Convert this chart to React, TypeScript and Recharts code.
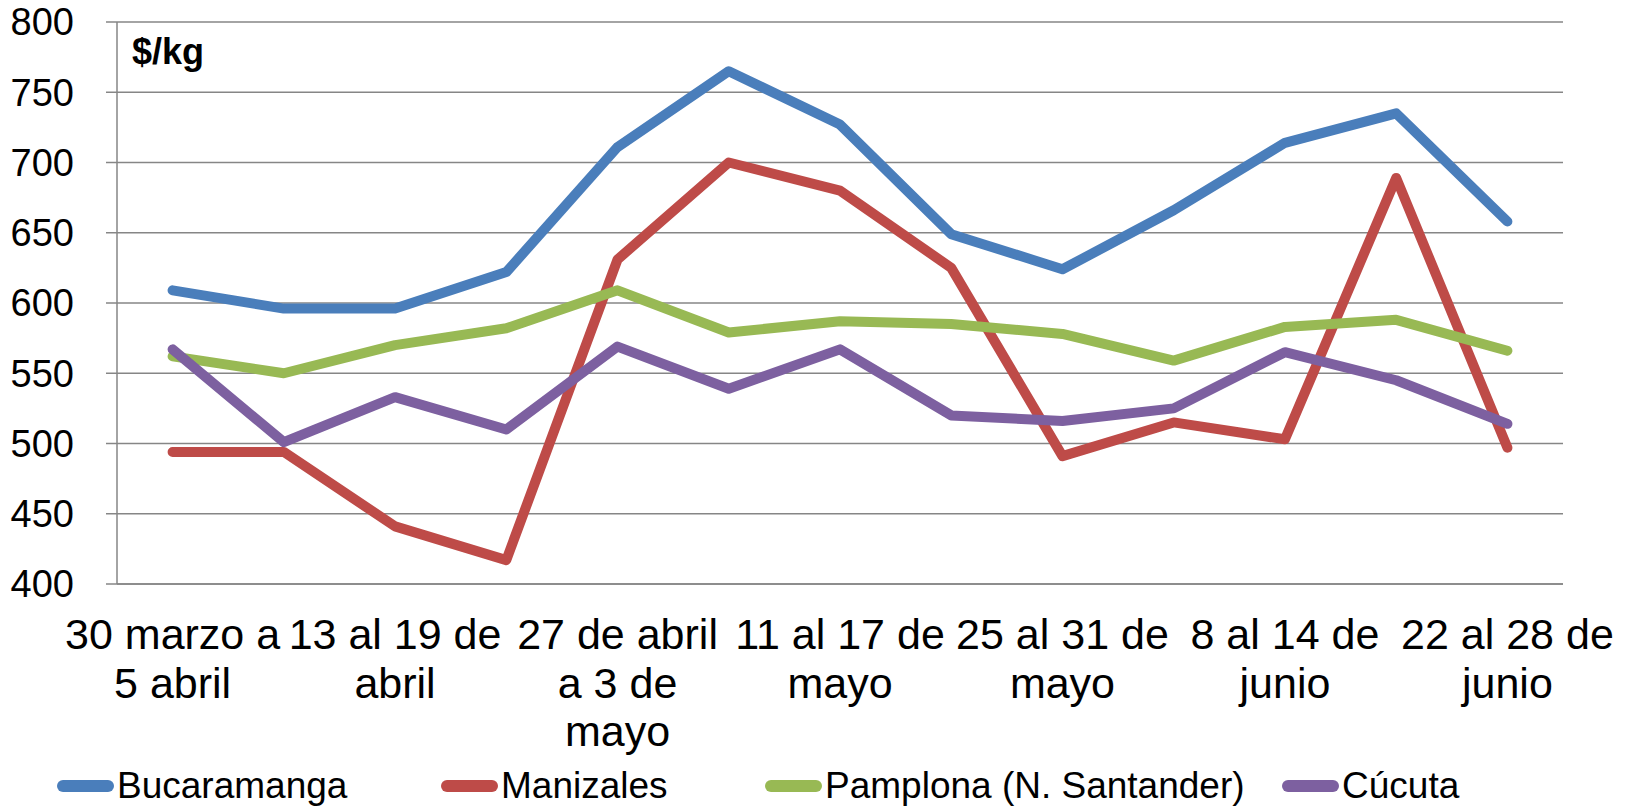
import { LineChart, Line, XAxis, YAxis, CartesianGrid } from 'recharts';

const weeks = [
  '30 marzo a\n5 abril',
  '6 al 12 de\nabril',
  '13 al 19 de\nabril',
  '20 al 26 de\nabril',
  '27 de abril\na 3 de\nmayo',
  '4 al 10 de\nmayo',
  '11 al 17 de\nmayo',
  '18 al 24 de\nmayo',
  '25 al 31 de\nmayo',
  '1 al 7 de\njunio',
  '8 al 14 de\njunio',
  '15 al 21 de\njunio',
  '22 al 28 de\njunio',
];

const bucaramanga = [609, 596, 596, 622, 711, 765, 727, 649, 624, 666, 714, 735, 658];
const manizales = [494, 494, 441, 417, 631, 700, 680, 625, 491, 515, 503, 689, 497];
const pamplona = [562, 550, 570, 582, 609, 579, 587, 585, 578, 559, 583, 588, 566];
const cucuta = [567, 501, 533, 510, 569, 539, 567, 520, 516, 525, 565, 545, 514];

const yTicks = [400, 450, 500, 550, 600, 650, 700, 750, 800];

const series = [
  { key: 'bucaramanga', name: 'Bucaramanga', color: '#4A7EBB', values: bucaramanga },
  { key: 'manizales', name: 'Manizales', color: '#BE4B48', values: manizales },
  { key: 'pamplona', name: 'Pamplona (N. Santander)', color: '#98B954', values: pamplona },
  { key: 'cucuta', name: 'Cúcuta', color: '#7D60A0', values: cucuta },
];

const data = weeks.map((week, i) => {
  const row: any = { week };
  series.forEach((s) => (row[s.key] = s.values[i]));
  return row;
});

// left edge of each legend entry
const legendX = [57, 441, 765, 1282];

const FONT = '"Liberation Sans", Arial, sans-serif';

const WeekTick = (props: any) => {
  const { x, y, payload } = props;
  const lines = String(payload.value).split('\n');
  return (
    <text x={x} y={y} textAnchor="middle" fontFamily={FONT} fontSize={43} fill="#000">
      {lines.map((line, i) => (
        <tspan key={i} x={x} dy={i === 0 ? 65 : 48.5}>
          {line}
        </tspan>
      ))}
    </text>
  );
};

export default function App() {
  return (
    <div style={{ position: 'absolute', left: 0, top: 0, width: 1628, height: 808, background: '#fff', fontFamily: FONT }}>
      <LineChart width={1628} height={808} data={data} margin={{ top: 22, right: 65, bottom: 0, left: 0 }}>
        <CartesianGrid horizontal vertical={false} stroke="#868686" strokeWidth={1.5} />
        <XAxis
          dataKey="week"
          interval={1}
          height={224}
          padding={{ left: 55.6, right: 55.6 }}
          tickLine={false}
          tickSize={0}
          tickMargin={0}
          axisLine={{ stroke: '#868686', strokeWidth: 1.5 }}
          tick={<WeekTick />}
        />
        <YAxis
          domain={[400, 800]}
          ticks={yTicks}
          width={117}
          tickSize={11}
          tickMargin={32}
          axisLine={{ stroke: '#868686', strokeWidth: 1.5 }}
          tickLine={{ stroke: '#868686', strokeWidth: 1.5 }}
          tick={{ fill: '#000', fontSize: 38, fontFamily: FONT }}
        />
        {series.map((s) => (
          <Line
            key={s.key}
            type="linear"
            dataKey={s.key}
            name={s.name}
            stroke={s.color}
            strokeWidth={10}
            strokeLinejoin="round"
            strokeLinecap="round"
            dot={false}
            activeDot={false}
            isAnimationActive={false}
          />
        ))}
      </LineChart>
      <div style={{ position: 'absolute', left: 132, top: 31, fontSize: 36, fontWeight: 'bold', color: '#000' }}>$/kg</div>
      {series.map((s, i) => (
        <div
          key={s.key}
          style={{ position: 'absolute', left: legendX[i], top: 764, height: 44, display: 'flex', alignItems: 'center', fontSize: 37, color: '#000', whiteSpace: 'nowrap' }}
        >
          <span style={{ display: 'inline-block', width: 57, height: 12, borderRadius: 6, background: s.color, marginRight: 3 }} />
          {s.name}
        </div>
      ))}
    </div>
  );
}
